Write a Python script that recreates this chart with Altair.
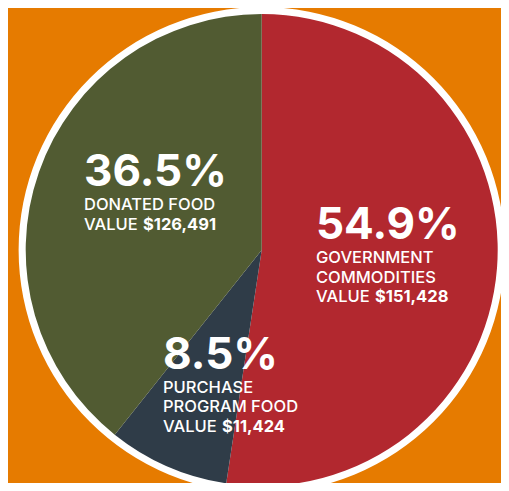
import altair as alt
import pandas as pd

# Slice data (shares as drawn in the picture, clockwise from 12 o'clock)
categories = ["Government Commodities", "Purchase Program Food", "Donated Food"]
drawn_share = [52.4, 8.3, 39.3]
colors = ["#B2282F", "#2F3C48", "#515B32"]

# Label texts
pct_labels = ["54.9%", "8.5%", "36.5%"]
name_lines = [["GOVERNMENT", "COMMODITIES"], ["PURCHASE", "PROGRAM FOOD"], ["DONATED FOOD"]]
value_labels = ["$151,428", "$11,424", "$126,491"]

W, H = 493, 475
CX, CY = 253.7, 242
R_IN, R_OUT = 236, 243
FONT = "Inter"

# label anchor positions (left x, baseline of big percentage)
anchors = [(308, 231), (155, 360.5), (76, 178)]

slices = pd.DataFrame({
    "category": categories,
    "share": drawn_share,
    "order": list(range(len(categories))),
})

ring = alt.Chart(pd.DataFrame({"a": [1]})).mark_arc(
    radius=R_OUT, theta=0, theta2=6.2832, color="white"
).encode(x=alt.value(CX), y=alt.value(CY))

pie = alt.Chart(slices).mark_arc(radius=R_IN).encode(
    theta=alt.Theta("share:Q", stack=True),
    order=alt.Order("order:Q"),
    color=alt.Color("category:N", scale=alt.Scale(domain=categories, range=colors), legend=None),
    x=alt.value(CX),
    y=alt.value(CY),
)

big_rows, small_rows, bold_rows = [], [], []
for i in range(len(categories)):
    ax, ay = anchors[i]
    big_rows.append({"x": ax, "y": ay, "t": pct_labels[i]})
    yy = ay + 24
    for line in name_lines[i]:
        small_rows.append({"x": ax, "y": yy, "t": line})
        yy += 19.5
    small_rows.append({"x": ax, "y": yy, "t": "VALUE"})
    bold_rows.append({"x": ax + 59, "y": yy, "t": value_labels[i]})

def text_layer(rows, size, weight):
    return alt.Chart(pd.DataFrame(rows)).mark_text(
        align="left", baseline="alphabetic", font=FONT, fontSize=size,
        fontWeight=weight, color="white"
    ).encode(
        x=alt.X("x:Q", scale=alt.Scale(domain=[0, W], range=[0, W]), axis=None),
        y=alt.Y("y:Q", scale=alt.Scale(domain=[0, H], range=[0, H]), axis=None),
        text="t:N",
    )

big = text_layer(big_rows, 44, "bold")
small = text_layer(small_rows, 16.5, 500)
bold = text_layer(bold_rows, 16.5, "bold")

chart = alt.layer(ring, pie, big, small, bold).properties(
    width=W, height=H, padding=0, autosize="none", background="#E67B00"
).configure_view(stroke=None).resolve_scale(x="shared", y="shared")

chart.save("out.html", embed_options={"renderer": "svg", "actions": False})
